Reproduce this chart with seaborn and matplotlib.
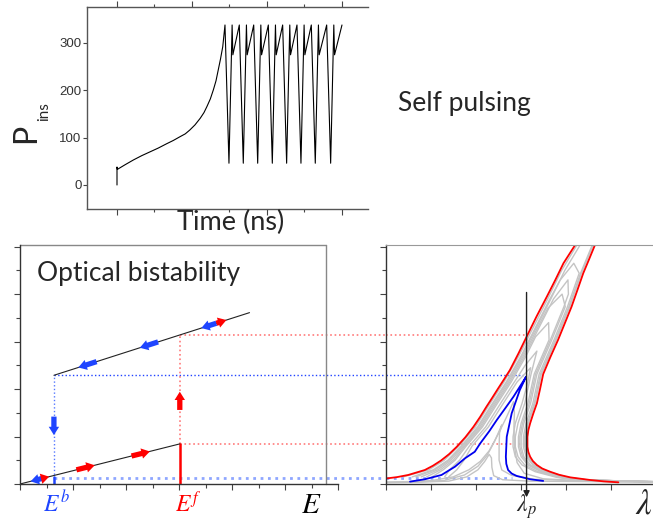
import numpy as np
import seaborn as sns
import matplotlib.pyplot as plt
from matplotlib.ticker import MultipleLocator

# ---- top panel: self pulsing trace (time in ns, power) ----
time_ns = [0.0, 0.0, 0.05, 1.1, 2.2, 3.3, 4.4, 5.5, 6.6, 7.5, 8.4, 9.1, 9.7, 10.4, 11.1, 11.6, 12.0,
           12.45, 12.85, 13.2, 13.5, 13.8, 14.1, 14.4,
           14.93, 15.35, 15.45, 16.31, 16.84, 17.26, 17.36, 18.23, 18.76, 19.18, 19.28, 20.18,
           20.71, 21.13, 21.23, 22.09, 22.62, 23.04, 23.14, 24.00, 24.53, 24.95, 25.05, 25.91,
           26.44, 26.86, 26.96, 27.96, 28.49, 28.91, 29.01, 30.0]
p_ins = [0, 38, 33, 43, 53, 62, 70, 78, 87, 94, 102, 108, 116, 127, 141, 153, 166,
         182, 201, 220, 243, 266, 292, 338,
         46, 338, 275, 338, 46, 338, 275, 338, 46, 338, 275, 338,
         46, 338, 275, 338, 46, 338, 275, 338, 46, 338, 275, 338,
         46, 338, 275, 338, 46, 338, 275, 338]
p_ticks = [0, 100, 200, 300]

# ---- bottom left: bistability loop ----
lower_x = [0.0, 6.03]
lower_y = [0.0, 1.69]
upper_x = [1.28, 8.66]
upper_y = [4.58, 7.22]
E_b, E_f = 1.28, 6.03
lev_low, lev_fl, lev_b, lev_fu = 0.265, 1.69, 4.58, 6.28
# arrows: x0, y0, x1, y1, colour
arrows = [(0.88, 0.246, 0.40, 0.112, 'b'), (0.88, 0.246, 1.10, 0.308, 'r'),
          (2.13, 0.597, 2.82, 0.790, 'r'), (4.21, 1.180, 4.90, 1.370, 'r'),
          (6.03, 3.12, 6.03, 3.89, 'r'), (1.28, 2.84, 1.28, 2.06, 'b'),
          (2.89, 5.156, 2.20, 4.909, 'b'), (5.21, 5.986, 4.52, 5.739, 'b'),
          (7.41, 6.773, 6.84, 6.569, 'b'), (7.41, 6.773, 7.79, 6.909, 'r')]

# ---- bottom right: resonance curves ----
red_l_x = [0.0, 0.25, 0.50, 0.87, 1.05, 1.23, 1.41, 1.58, 1.77, 1.95, 2.10, 2.24, 2.37, 2.50,
           2.63, 2.76, 2.95, 3.13, 3.35, 3.58, 3.77, 3.95, 4.21]
red_l_y = [0.23, 0.29, 0.38, 0.59, 0.77, 0.99, 1.26, 1.57, 1.97, 2.41, 2.83, 3.26, 3.64, 4.03,
           4.41, 4.80, 5.50, 6.20, 7.05, 7.89, 8.60, 9.30, 10.07]
red_r_x = [5.17, 4.85, 4.54, 4.10, 3.85, 3.65, 3.48, 3.36, 3.27, 3.21, 3.17, 3.15, 3.15, 3.17,
           3.21, 3.28, 3.36, 3.43, 3.50, 3.66, 3.83, 3.98, 4.13, 4.26, 4.39, 4.52, 4.65]
red_r_y = [0.07, 0.11, 0.17, 0.28, 0.39, 0.52, 0.65, 0.80, 0.97, 1.15, 1.35, 1.57, 1.99, 2.27,
           2.56, 2.97, 3.40, 4.00, 4.63, 5.35, 6.07, 6.77, 7.47, 8.17, 8.88, 9.47, 10.07]
blue_x = [0.54, 0.87, 1.24, 1.54, 1.76, 1.98, 2.10, 2.30, 2.47, 2.66, 2.84, 2.98, 3.12, 2.98, 2.80,
          2.69, 2.67, 2.68, 2.72, 2.80, 2.91, 3.21, 3.50]
blue_y = [0.10, 0.20, 0.38, 0.73, 1.08, 1.36, 1.71, 2.22, 2.70, 3.20, 3.68, 4.10, 4.52, 3.96, 2.98,
          1.99, 1.15, 0.85, 0.59, 0.44, 0.34, 0.20, 0.13]
gray_x = [
    [0.0, 0.8, 1.4, 1.8, 2.05, 2.2, 2.30, 2.35, 2.36, 2.40, 2.6, 3.2, 5.94],
    [0.0, 0.7, 1.3, 1.75, 2.05, 2.25, 2.42, 2.58, 2.53, 2.52, 2.52, 2.58, 2.80, 3.3, 4.5, 5.94],
    [0.0, 0.5, 1.0, 1.5, 1.85, 2.1, 2.3, 2.5, 2.68, 2.84, 2.86, 2.85, 2.86, 2.92, 3.08, 3.5, 4.5, 5.94],
    [1.40, 1.58, 1.74, 1.92, 2.28, 2.58, 2.92, 3.22, 3.16, 3.03, 2.88, 2.83, 2.83, 2.88, 3.03, 3.32, 3.8, 4.25, 5.94],
    [1.31, 1.42, 1.64, 1.86, 2.22, 2.52, 2.86, 3.10, 3.36, 3.23, 3.09, 2.94, 2.88, 2.88, 2.94, 3.09, 3.38, 3.85, 4.3, 5.94],
    [1.03, 1.28, 1.54, 1.79, 2.15, 2.45, 2.79, 3.12, 3.33, 3.62, 3.63, 3.30, 3.16, 3.01, 2.95, 2.95, 3.01, 3.16, 3.45, 3.9, 4.35, 5.94],
    [0.79, 1.16, 1.45, 1.73, 2.09, 2.39, 2.73, 3.06, 3.38, 3.60, 3.92, 3.99, 3.69, 3.36, 3.22, 3.07, 3.01, 3.01, 3.07, 3.22, 3.51, 3.95, 4.4, 5.94],
    [0.91, 1.22, 1.50, 1.76, 2.12, 2.42, 2.76, 3.09, 3.41, 3.73, 4.05, 4.06, 3.96, 3.66, 3.33, 3.19, 3.04, 2.98, 2.98, 3.04, 3.19, 3.48, 3.93, 4.38, 5.94],
    [0.59, 1.06, 1.38, 1.68, 2.04, 2.34, 2.68, 3.01, 3.33, 3.65, 3.88, 4.18, 4.30, 4.04, 3.74, 3.41, 3.27, 3.12, 3.06, 3.06, 3.12, 3.27, 3.56, 4.0, 4.45, 5.94],
    [0.67, 1.10, 1.41, 1.70, 2.06, 2.36, 2.70, 3.03, 3.35, 3.67, 3.98, 4.32, 4.46, 4.59, 4.33, 4.07, 3.77, 3.44, 3.30, 3.15, 3.09, 3.09, 3.15, 3.30, 3.58, 4.03, 4.48, 5.94],
    [0.39, 0.96, 1.30, 1.63, 1.99, 2.29, 2.63, 2.96, 3.28, 3.60, 3.91, 4.25, 4.43, 4.61, 4.35, 4.09, 3.79, 3.46, 3.32, 3.17, 3.11, 3.11, 3.17, 3.32, 3.60, 4.05, 4.5, 5.94],
]
gray_y = [
    [0.06, 0.08, 0.12, 0.30, 0.60, 0.95, 1.25, 1.10, 0.70, 0.35, 0.18, 0.12, 0.08],
    [0.07, 0.09, 0.15, 0.38, 0.75, 1.20, 1.80, 2.49, 2.15, 1.60, 1.00, 0.59, 0.36, 0.20, 0.12, 0.09],
    [0.08, 0.10, 0.14, 0.30, 0.60, 0.95, 1.40, 2.10, 2.80, 3.47, 3.00, 2.40, 1.60, 0.90, 0.45, 0.22, 0.12, 0.09],
    [0.3, 0.6, 1.0, 1.6, 2.4, 3.3, 4.3, 4.9, 4.3, 3.40, 2.56, 1.99, 1.57, 1.15, 0.80, 0.52, 0.28, 0.17, 0.10],
    [0.3, 0.6, 1.0, 1.6, 2.4, 3.3, 4.3, 5.0, 5.6, 4.63, 3.40, 2.56, 1.99, 1.57, 1.15, 0.80, 0.52, 0.28, 0.17, 0.10],
    [0.3, 0.6, 1.0, 1.6, 2.4, 3.3, 4.3, 5.4, 6.2, 6.8, 6.07, 4.63, 3.40, 2.56, 1.99, 1.57, 1.15, 0.80, 0.52, 0.28, 0.17, 0.10],
    [0.3, 0.6, 1.0, 1.6, 2.4, 3.3, 4.3, 5.4, 6.6, 7.4, 8.0, 7.47, 6.07, 4.63, 3.40, 2.56, 1.99, 1.57, 1.15, 0.80, 0.52, 0.28, 0.17, 0.10],
    [0.3, 0.6, 1.0, 1.6, 2.4, 3.3, 4.3, 5.4, 6.6, 7.8, 8.6, 8.0, 7.47, 6.07, 4.63, 3.40, 2.56, 1.99, 1.57, 1.15, 0.80, 0.52, 0.28, 0.17, 0.10],
    [0.3, 0.6, 1.0, 1.6, 2.4, 3.3, 4.3, 5.4, 6.6, 7.8, 8.6, 9.3, 8.88, 7.47, 6.07, 4.63, 3.40, 2.56, 1.99, 1.57, 1.15, 0.80, 0.52, 0.28, 0.17, 0.09],
    [0.3, 0.6, 1.0, 1.6, 2.4, 3.3, 4.3, 5.4, 6.6, 7.8, 9.0, 10.07, 10.6, 10.07, 8.88, 7.47, 6.07, 4.63, 3.40, 2.56, 1.99, 1.57, 1.15, 0.80, 0.52, 0.28, 0.17, 0.09],
    [0.3, 0.6, 1.0, 1.6, 2.4, 3.3, 4.3, 5.4, 6.6, 7.8, 9.0, 10.07, 10.7, 10.07, 8.88, 7.47, 6.07, 4.63, 3.40, 2.56, 1.99, 1.57, 1.15, 0.80, 0.52, 0.28, 0.17, 0.09],
]
lam_p = 3.13

sns.set_style('ticks')
plt.rcParams['font.family'] = ['Lato', 'DejaVu Sans']
plt.rcParams['mathtext.fontset'] = 'stix'

W, H = 653, 527
fig = plt.figure(figsize=(W / 100, H / 100), dpi=100)


def box(x0, y0, x1, y1):
    return [x0 / W, 1 - y1 / H, (x1 - x0) / W, (y1 - y0) / H]


RED, BLUE = '#ff0000', '#1f45ff'
tick_col = '#444444'

# ---------------- top panel ----------------
ax = fig.add_axes(box(87, 7, 368, 209))
sns.lineplot(x=time_ns, y=p_ins, ax=ax, sort=False, estimator=None, color='black', lw=0.8)
ax.set_xlim(-4, 33.47)
ax.set_ylim(-50.7, 376)
ax.set_yticks(p_ticks)
ax.set_yticklabels([str(v) for v in p_ticks], fontsize=9.5, color='#333333', family='Liberation Sans')
ax.xaxis.set_major_locator(MultipleLocator(10))
ax.xaxis.set_minor_locator(MultipleLocator(5))
ax.set_xticklabels([])
ax.tick_params(axis='y', direction='out', length=3, width=0.8, color=tick_col, pad=1)
ax.tick_params(axis='x', which='major', direction='out', length=4, width=0.8, color=tick_col, top=True)
ax.tick_params(axis='x', which='minor', direction='out', length=2.5, width=0.8, color=tick_col, top=True)
ax.set_xlabel('')
ax.set_ylabel('')
for s in ['left', 'bottom', 'top']:
    ax.spines[s].set_color('#555555')
    ax.spines[s].set_linewidth(1.0)
ax.spines['right'].set_visible(False)

fig.text(26 / W, 1 - 133 / H, 'P', rotation=90, fontsize=23, ha='center', va='center')
fig.text(44 / W, 1 - 112 / H, 'ins', rotation=90, fontsize=11, ha='center', va='center')
fig.text(231 / W, 1 - 222 / H, 'Time (ns)', fontsize=19.5, ha='center', va='center')
fig.text(464 / W, 1 - 103 / H, 'Self pulsing', fontsize=19, ha='center', va='center')

# ---------------- bottom left panel ----------------
ax1 = fig.add_axes(box(20, 245, 338, 484))
ax1.set_xlim(0, 12)
ax1.set_ylim(0, 10.07)
x_far = 13.79
# dotted guide lines
ax1.plot([E_b, E_b], [lev_low, lev_b], ls=':', color='#5577ff', lw=1.0)
ax1.plot([E_b, x_far], [lev_b, lev_b], ls=':', color='#2244ff', lw=1.0, clip_on=False)
ax1.plot([E_b, x_far], [lev_low, lev_low], ls=':', color='#8ea6ff', lw=2.0, clip_on=False)
ax1.plot([E_f, E_f], [lev_fl, lev_fu], ls=':', color='#ff7a7a', lw=1.2)
ax1.plot([E_f, x_far], [lev_fu, lev_fu], ls=':', color='#ff7a7a', lw=1.2, clip_on=False)
ax1.plot([E_f, x_far], [lev_fl, lev_fl], ls=':', color='#ff7a7a', lw=1.2, clip_on=False)
ax1.plot([E_b, E_b], [0, lev_low + 0.05], color=BLUE, lw=1.8)
ax1.plot([E_f, E_f], [0, lev_fl], color=RED, lw=1.8)
sns.lineplot(x=lower_x, y=lower_y, ax=ax1, sort=False, estimator=None, color='#222222', lw=0.8)
sns.lineplot(x=upper_x, y=upper_y, ax=ax1, sort=False, estimator=None, color='#222222', lw=0.8)
for x0, y0, x1, y1, c in arrows:
    ax1.annotate('', xy=(x1, y1), xytext=(x0, y0),
                 arrowprops=dict(arrowstyle='simple,head_length=0.6,head_width=0.75,tail_width=0.38',
                                 color=RED if c == 'r' else BLUE, mutation_scale=10,
                                 shrinkA=0, shrinkB=0, lw=0))
# frame (top and right)
ax1.plot([0, 11.53], [10.07, 10.07], color='#888888', lw=1.0, clip_on=False)
ax1.plot([11.53, 11.53], [0, 10.07], color='#888888', lw=1.0, clip_on=False)
ax1.xaxis.set_major_locator(MultipleLocator(2))
ax1.xaxis.set_minor_locator(MultipleLocator(1))
ax1.yaxis.set_major_locator(MultipleLocator(2))
ax1.yaxis.set_minor_locator(MultipleLocator(1))
ax1.set_xticklabels([])
ax1.set_yticklabels([])
ax1.tick_params(which='major', direction='out', length=4.5, width=0.8, color=tick_col)
ax1.tick_params(which='minor', direction='out', length=3, width=0.8, color=tick_col)
for s in ['top', 'right']:
    ax1.spines[s].set_visible(False)
for s in ['left', 'bottom']:
    ax1.spines[s].set_color('#333333')
    ax1.spines[s].set_linewidth(1.0)

fig.text(37 / W, 1 - 273 / H, 'Optical bistability', fontsize=19, ha='left', va='center')
fig.text(56 / W, 1 - 503 / H, r'$E^b$', fontsize=17, color=BLUE, ha='center', va='center')
fig.text(188 / W, 1 - 503 / H, r'$E^f$', fontsize=17, color=RED, ha='center', va='center')
fig.text(311 / W, 1 - 505 / H, r'$E$', fontsize=21, color='black', ha='center', va='center')

# ---------------- bottom right panel ----------------
ax2 = fig.add_axes(box(385.7, 245, 653, 484))
ax2.set_xlim(0, 5.94)
ax2.set_ylim(0, 10.07)
ax2.plot([0, lam_p], [lev_fu, lev_fu], ls=':', color='#ff7a7a', lw=1.2)
ax2.plot([0, lam_p], [lev_fl, lev_fl], ls=':', color='#ff7a7a', lw=1.2)
ax2.plot([0, lam_p - 0.05], [lev_b, lev_b], ls=':', color='#2244ff', lw=1.0)
ax2.plot([0, 2.8], [lev_low, lev_low], ls=':', color='#8ea6ff', lw=2.0)
for gx, gy in zip(gray_x, gray_y):
    sns.lineplot(x=gx, y=gy, ax=ax2, sort=False, estimator=None, color='#c4c4c4', lw=1.0)
sns.lineplot(x=red_l_x, y=red_l_y, ax=ax2, sort=False, estimator=None, color=RED, lw=1.3)
sns.lineplot(x=red_r_x, y=red_r_y, ax=ax2, sort=False, estimator=None, color=RED, lw=1.3)
sns.lineplot(x=blue_x, y=blue_y, ax=ax2, sort=False, estimator=None, color='#0000ee', lw=1.3)
ax2.annotate('', xy=(lam_p, -0.56), xytext=(lam_p, 8.07), annotation_clip=False,
             arrowprops=dict(arrowstyle='-|>', color='#222222', lw=1.0, mutation_scale=9,
                             shrinkA=0, shrinkB=0))
ax2.xaxis.set_major_locator(MultipleLocator(1))
ax2.yaxis.set_major_locator(MultipleLocator(2))
ax2.yaxis.set_minor_locator(MultipleLocator(1))
ax2.set_xticklabels([])
ax2.set_yticklabels([])
ax2.tick_params(which='major', direction='out', length=4.5, width=0.8, color=tick_col)
ax2.tick_params(which='minor', direction='out', length=3, width=0.8, color=tick_col)
ax2.spines['right'].set_visible(False)
ax2.spines['top'].set_color('#999999')
for s in ['left', 'bottom']:
    ax2.spines[s].set_color('#333333')
    ax2.spines[s].set_linewidth(1.0)

fig.text(526 / W, 1 - 507 / H, r'$\lambda_p$', fontsize=17, ha='center', va='center')
fig.text(644 / W, 1 - 503 / H, r'$\lambda$', fontsize=25, ha='center', va='center')

fig.savefig('out.png', dpi=100)
